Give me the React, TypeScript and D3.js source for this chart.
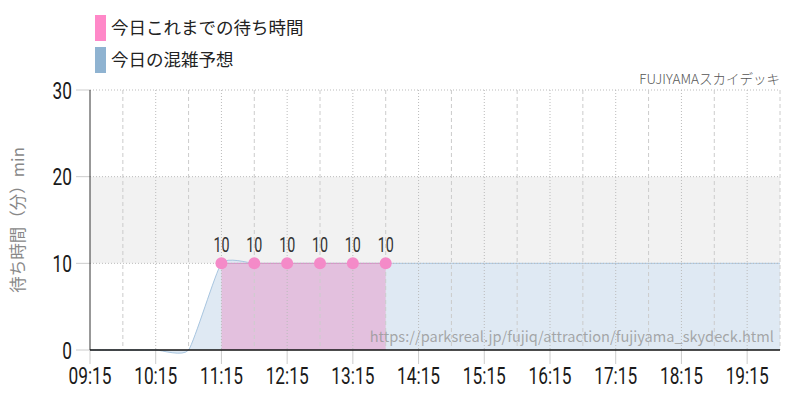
import { useEffect, useRef } from 'react'
import * as d3 from 'd3'

// 予想（30分ごと）
const forecastTimes = [
  '09:15', '09:45', '10:15', '10:45', '11:15', '11:45', '12:15', '12:45',
  '13:15', '13:45', '14:15', '14:45', '15:15', '15:45', '16:15', '16:45',
  '17:15', '17:45', '18:15', '18:45', '19:15', '19:45'
]
const forecastValues = [0, 0, 0, 0, 10, 10, 10, 10, 10, 10, 10, 10, 10, 10, 10, 10, 10, 10, 10, 10, 10, 10]

// 実績
const actualTimes = ['11:15', '11:45', '12:15', '12:45', '13:15', '13:45']
const actualValues = [10, 10, 10, 10, 10, 10]

const hourTicks = ['09:15', '10:15', '11:15', '12:15', '13:15', '14:15', '15:15', '16:15', '17:15', '18:15', '19:15']
const halfTicks = ['09:45', '10:45', '11:45', '12:45', '13:45', '14:45', '15:45', '16:45', '17:45', '18:45', '19:45']
const yTicks = [0, 10, 20, 30]

const legendItems = [
  { label: '今日これまでの待ち時間', color: '#ff88c8' },
  { label: '今日の混雑予想', color: '#8fb3d1' }
]

const title = 'FUJIYAMAスカイデッキ'
const sourceUrl = 'https://parksreal.jp/fujiq/attraction/fujiyama_skydeck.html'
const yLabel = '待ち時間（分）min'

const numFont = 'Roboto, sans-serif'
const jp = "'Noto Sans CJK JP', 'Noto Sans', sans-serif"

export default function App() {
  const svgRef = useRef<SVGSVGElement>(null)
  const width = 800
  const height = 400
  const margin = { top: 90, right: 20, bottom: 50, left: 90 }

  useEffect(() => {
    if (!svgRef.current) return
    const svg = d3.select(svgRef.current)
    svg.selectAll('*').remove()

    const parse = d3.timeParse('%H:%M')
    const x = d3.scaleTime()
      .domain([parse('09:15')!, parse('19:45')!])
      .range([margin.left, width - margin.right])
    const y = d3.scaleLinear()
      .domain([0, 30])
      .range([height - margin.bottom, margin.top])

    const x0 = margin.left
    const x1 = width - margin.right

    // 10-20 band
    svg.append('rect')
      .attr('x', x0)
      .attr('y', y(20))
      .attr('width', x1 - x0)
      .attr('height', y(10) - y(20))
      .attr('fill', '#f2f2f2')

    const forecast = forecastTimes.map((t, i) => ({ t: parse(t)!, v: forecastValues[i] }))
    const actual = actualTimes.map((t, i) => ({ t: parse(t)!, v: actualValues[i] }))

    const curve = d3.curveCardinal.tension(0.5)
    const fArea = d3.area<{ t: Date; v: number }>()
      .x(d => x(d.t)).y0(y(0)).y1(d => y(d.v)).curve(curve)
    const fLine = d3.line<{ t: Date; v: number }>()
      .x(d => x(d.t)).y(d => y(d.v)).curve(curve)

    svg.append('path').datum(forecast)
      .attr('d', fArea)
      .attr('fill', '#dfe9f3')
    svg.append('path').datum(forecast)
      .attr('d', fLine)
      .attr('fill', 'none')
      .attr('stroke', '#a9c6e0')
      .attr('stroke-width', 1)

    const aArea = d3.area<{ t: Date; v: number }>()
      .x(d => x(d.t)).y0(y(0)).y1(d => y(d.v))
    const aLine = d3.line<{ t: Date; v: number }>()
      .x(d => x(d.t)).y(d => y(d.v))

    svg.append('path').datum(actual)
      .attr('d', aArea)
      .attr('fill', '#e3c0de')
    svg.append('path').datum(actual)
      .attr('d', aLine)
      .attr('fill', 'none')
      .attr('stroke', '#d98cc4')
      .attr('stroke-width', 1)

    // grid
    const grid = svg.append('g')
    grid.selectAll('line.h')
      .data(yTicks.filter(v => v > 0))
      .enter().append('line')
      .attr('x1', x0).attr('x2', x1)
      .attr('y1', d => y(d)).attr('y2', d => y(d))
      .attr('stroke', '#bbb')
      .attr('stroke-width', 1)
      .attr('stroke-dasharray', '1,2')
    grid.selectAll('line.hour')
      .data(hourTicks.slice(1))
      .enter().append('line')
      .attr('x1', d => x(parse(d)!)).attr('x2', d => x(parse(d)!))
      .attr('y1', y(30)).attr('y2', y(0))
      .attr('stroke', '#bbb')
      .attr('stroke-width', 1)
      .attr('stroke-dasharray', '1,2')
    grid.selectAll('line.half')
      .data(halfTicks)
      .enter().append('line')
      .attr('x1', d => x(parse(d)!)).attr('x2', d => x(parse(d)!))
      .attr('y1', y(30)).attr('y2', y(0))
      .attr('stroke', '#ccc')
      .attr('stroke-width', 1)
      .attr('stroke-dasharray', '4,3')

    // y ticks + labels
    svg.selectAll('line.ytick')
      .data(yTicks)
      .enter().append('line')
      .attr('x1', x0 - 14).attr('x2', x0)
      .attr('y1', d => y(d)).attr('y2', d => y(d))
      .attr('stroke', '#ccc')
    svg.selectAll('text.ylab')
      .data(yTicks)
      .enter().append('text')
      .attr('transform', d => `translate(${x0 - 18},${y(d) + 8.5}) scale(0.72,1)`)
      .attr('text-anchor', 'end')
      .attr('font-family', numFont)
      .attr('font-size', 24)
      .attr('fill', '#1a1a1a')
      .text(d => d)

    // x ticks + labels
    svg.selectAll('line.xtick')
      .data(hourTicks)
      .enter().append('line')
      .attr('x1', d => x(parse(d)!)).attr('x2', d => x(parse(d)!))
      .attr('y1', y(0)).attr('y2', y(0) + 14)
      .attr('stroke', '#ccc')
    svg.selectAll('text.xlab')
      .data(hourTicks)
      .enter().append('text')
      .attr('transform', d => `translate(${x(parse(d)!)},${height - 16}) scale(0.72,1)`)
      .attr('text-anchor', 'middle')
      .attr('font-family', numFont)
      .attr('font-size', 24)
      .attr('fill', '#1a1a1a')
      .text(d => d)

    // axes lines
    svg.append('line')
      .attr('x1', x0).attr('x2', x0)
      .attr('y1', y(30)).attr('y2', y(0))
      .attr('stroke', '#333')
    svg.append('line')
      .attr('x1', x0).attr('x2', x1)
      .attr('y1', y(0)).attr('y2', y(0))
      .attr('stroke', '#111')
      .attr('stroke-width', 1.5)

    // markers
    svg.selectAll('circle.pt')
      .data(actual)
      .enter().append('circle')
      .attr('cx', d => x(d.t))
      .attr('cy', d => y(d.v))
      .attr('r', 6)
      .attr('fill', '#f48ac8')
    svg.selectAll('text.val')
      .data(actual)
      .enter().append('text')
      .attr('transform', d => `translate(${x(d.t)},${y(d.v) - 11}) scale(0.68,1)`)
      .attr('text-anchor', 'middle')
      .attr('font-family', numFont)
      .attr('font-size', 21)
      .attr('fill', '#333')
      .text(d => d.v)

    // source watermark
    svg.append('text')
      .attr('x', x1 - 6)
      .attr('y', y(0) - 8)
      .attr('text-anchor', 'end')
      .attr('font-family', jp)
      .attr('font-size', 14.6)
      .attr('fill', '#999')
      .attr('fill-opacity', 0.85)
      .text(sourceUrl)

    // title
    svg.append('text')
      .attr('x', x1)
      .attr('y', 84)
      .attr('text-anchor', 'end')
      .attr('font-family', jp)
      .attr('font-weight', 300)
      .attr('font-size', 13.5)
      .attr('fill', '#555')
      .text(title)

    // y label
    svg.append('text')
      .attr('transform', `translate(24,${(y(0) + y(30)) / 2}) rotate(-90)`)
      .attr('text-anchor', 'middle')
      .attr('font-family', jp)
      .attr('font-size', 16.5)
      .attr('fill', '#888')
      .text(yLabel)

    // legend
    const legend = svg.append('g')
    legendItems.forEach((item, i) => {
      const top = 15 + i * 32
      legend.append('rect')
        .attr('x', 95).attr('y', top)
        .attr('width', 11).attr('height', 26)
        .attr('fill', item.color)
      legend.append('text')
        .attr('x', 111).attr('y', top + 19)
        .attr('font-family', jp)
        .attr('font-size', 17.5)
        .attr('fill', '#222')
        .text(item.label)
    })
  }, [])

  return (
    <svg
      ref={svgRef}
      width={width}
      height={height}
      style={{ position: 'absolute', left: 0, top: 0, background: '#fff' }}
    />
  )
}
